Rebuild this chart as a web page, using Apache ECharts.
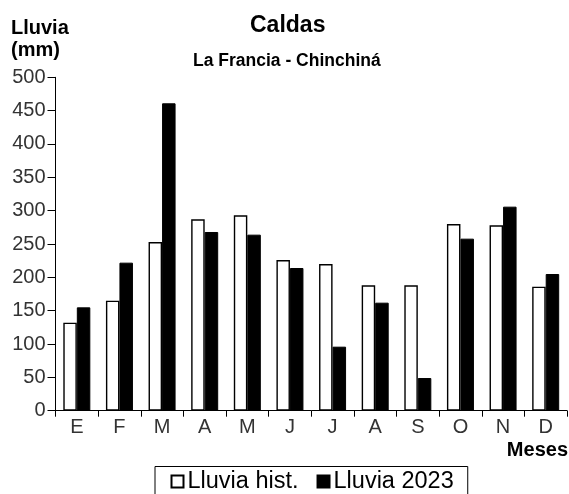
<!DOCTYPE html>
<html>
<head>
<meta charset="utf-8">
<script src="https://cdn.jsdelivr.net/npm/echarts@6/dist/echarts.min.js"></script>
<style>
  html, body { margin: 0; padding: 0; background: #fff; }
  #chart { width: 569px; height: 494px; }
</style>
</head>
<body>
<div id="chart"></div>
<script>
// months (abreviated, Spanish)
const meses = ['E', 'F', 'M', 'A', 'M', 'J', 'J', 'A', 'S', 'O', 'N', 'D']
// rain in mm
const lluviaHist = [132, 165, 253, 287, 293, 226, 220, 188, 188, 280, 278, 186]
const lluvia2023 = [155, 222, 461, 268, 264, 214, 96, 162, 49, 258, 306, 205]

const font = 'Liberation Sans, Arial, sans-serif'

const myChart = echarts.init(document.getElementById('chart'))

const option = {
  backgroundColor: '#fff',
  animation: false,
  textStyle: { fontFamily: font },
  title: [
    {
      text: 'Caldas',
      left: 250,
      top: 14,
      padding: 0,
      textStyle: { fontFamily: font, fontSize: 23, fontWeight: 'bold', color: '#000' },
    },
    {
      text: 'La Francia - Chinchiná',
      left: 193,
      top: 52,
      padding: 0,
      textStyle: { fontFamily: font, fontSize: 17.5, fontWeight: 'bold', color: '#000' },
    },
    {
      text: 'Lluvia\n(mm)',
      left: 11,
      top: 17,
      padding: 0,
      textStyle: { fontFamily: font, fontSize: 20, fontWeight: 'bold', color: '#000', lineHeight: 22 },
    },
    {
      text: 'Meses',
      right: 1,
      top: 440,
      padding: 0,
      textStyle: { fontFamily: font, fontSize: 20, fontWeight: 'bold', color: '#000' },
    },
  ],
  legend: {
    top: 466.5,
    left: 155,
    data: ['Lluvia hist.', 'Lluvia 2023'],
    icon: 'rect',
    itemWidth: 12,
    itemHeight: 12,
    itemGap: 18,
    padding: [3, 14, 10, 15.5],
    borderColor: '#000',
    borderWidth: 1,
    borderRadius: 0,
    textStyle: { fontFamily: font, fontSize: 23.5, color: '#000', padding: [0, 0, 0, -1] },
  },
  grid: {
    left: 55.5,
    right: 2,
    top: 77.3,
    bottom: 83.3,
    containLabel: false,
    outerBoundsMode: 'none',
  },
  xAxis: {
    type: 'category',
    data: meses,
    axisLine: { lineStyle: { color: '#000', width: 1 } },
    axisTick: { show: true, length: 6, alignWithLabel: false, lineStyle: { color: '#000' } },
    axisLabel: { fontFamily: font, fontSize: 20, color: '#333', margin: 7, interval: 0 },
  },
  yAxis: {
    type: 'value',
    min: 0,
    max: 500,
    interval: 50,
    splitLine: { show: false },
    axisLine: { show: true, lineStyle: { color: '#000', width: 1 } },
    axisTick: { show: true, length: 8, lineStyle: { color: '#000' } },
    axisLabel: { fontFamily: font, fontSize: 20, color: '#333', margin: 10 },
  },
  series: [
    {
      name: 'Lluvia hist.',
      type: 'bar',
      data: lluviaHist,
      barWidth: 13.5,
      barGap: '0%',
      itemStyle: { color: '#fff', borderColor: '#000', borderWidth: 1.4 },
    },
    {
      name: 'Lluvia 2023',
      type: 'bar',
      data: lluvia2023,
      barWidth: 13.5,
      barGap: '0%',
      itemStyle: { color: '#000', borderColor: '#000', borderWidth: 1 },
    },
  ],
}

myChart.setOption(option)
</script>
</body>
</html>
